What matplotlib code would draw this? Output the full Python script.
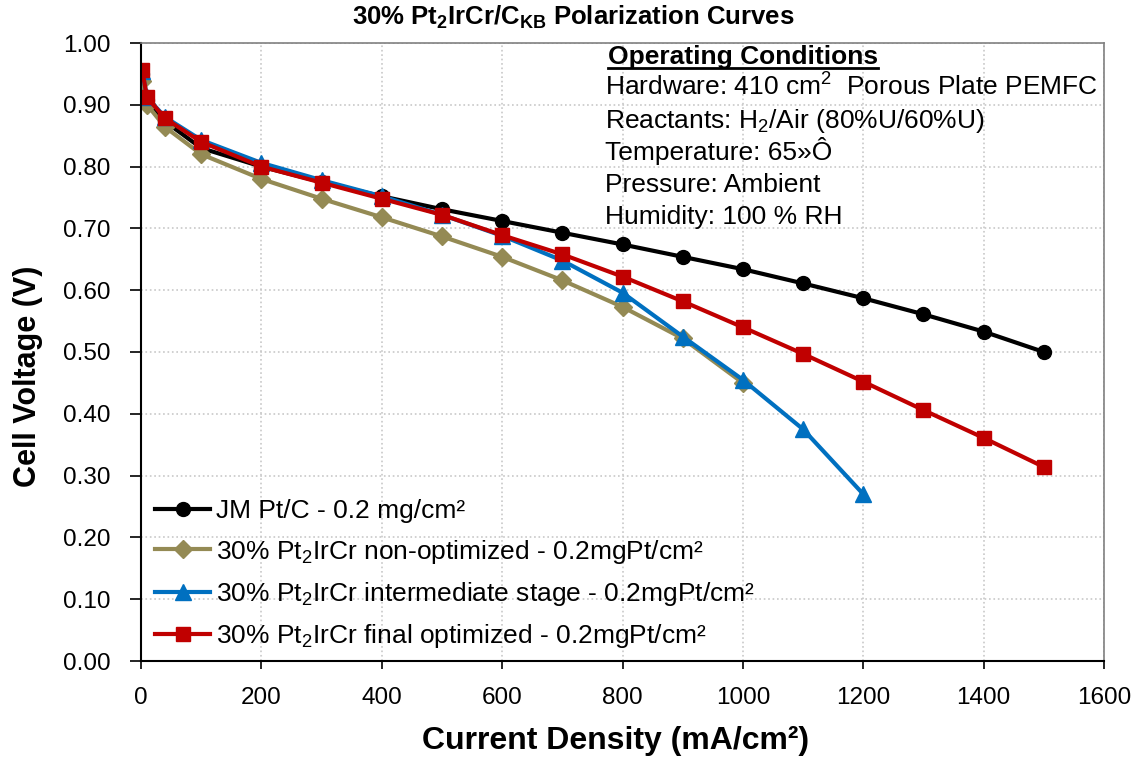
import matplotlib
matplotlib.use('Agg')
import matplotlib.pyplot as plt
from matplotlib.lines import Line2D

plt.rcParams['font.family'] = ['Liberation Sans', 'DejaVu Sans']
plt.rcParams['mathtext.fontset'] = 'custom'
plt.rcParams['mathtext.rm'] = 'Liberation Sans'
plt.rcParams['mathtext.bf'] = 'Liberation Sans:bold'
plt.rcParams['mathtext.default'] = 'regular'

# current density (mA/cm2) and cell voltage (V) per catalyst
jm_x = [2, 10, 40, 100, 200, 300, 400, 500, 600, 700, 800, 900, 1000, 1100, 1200, 1300, 1400, 1500]
jm_v = [0.950, 0.908, 0.873, 0.830, 0.800, 0.775, 0.752, 0.731, 0.712, 0.693, 0.674, 0.654, 0.634, 0.611, 0.587, 0.561, 0.533, 0.500]

nonopt_x = [2, 10, 40, 100, 200, 300, 400, 500, 600, 700, 800, 900, 1000]
nonopt_v = [0.938, 0.900, 0.864, 0.820, 0.780, 0.748, 0.718, 0.687, 0.654, 0.616, 0.573, 0.522, 0.450]

inter_x = [2, 10, 40, 100, 200, 300, 400, 500, 600, 700, 800, 900, 1000, 1100, 1200]
inter_v = [0.955, 0.912, 0.880, 0.843, 0.806, 0.778, 0.752, 0.722, 0.688, 0.648, 0.596, 0.525, 0.455, 0.375, 0.270]

final_x = [2, 10, 40, 100, 200, 300, 400, 500, 600, 700, 800, 900, 1000, 1100, 1200, 1300, 1400, 1500]
final_v = [0.956, 0.912, 0.878, 0.840, 0.800, 0.774, 0.748, 0.722, 0.689, 0.658, 0.622, 0.582, 0.540, 0.497, 0.452, 0.406, 0.361, 0.314]

labels = ['JM Pt/C - 0.2 mg/cm²',
          '30% Pt$_2$IrCr non-optimized - 0.2mgPt/cm²',
          '30% Pt$_2$IrCr intermediate stage - 0.2mgPt/cm²',
          '30% Pt$_2$IrCr final optimized - 0.2mgPt/cm²']

conditions = ['Hardware: 410 cm$^2$  Porous Plate PEMFC',
              'Reactants: H$_2$/Air (80%U/60%U)',
              'Temperature: 65»Ô',
              'Pressure: Ambient',
              'Humidity: 100 % RH']

W, H = 1136, 757
fig = plt.figure(figsize=(W / 100, H / 100), dpi=100)
ax = fig.add_axes([141 / W, 1 - 661 / H, 963 / W, 618 / H])

ax.plot(jm_x, jm_v, color='black', lw=3, marker='o', ms=10, label=labels[0])
ax.plot(nonopt_x, nonopt_v, color='#948A54', lw=3, marker='D', ms=9, label=labels[1])
ax.plot(inter_x, inter_v, color='#0070C0', lw=3, marker='^', ms=11, label=labels[2])
ax.plot(final_x, final_v, color='#C00000', lw=3, marker='s', ms=10, label=labels[3])

ax.set_xlim(0, 1600)
ax.set_ylim(0, 1.0)
ax.set_xticks(range(0, 1601, 200))
ax.set_yticks([i / 10 for i in range(11)])
ax.set_yticklabels([f'{i / 10:.2f}' for i in range(11)])
ax.tick_params(axis='x', labelsize=17.5, direction='out', length=6, width=1.2, pad=13)
ax.tick_params(axis='y', labelsize=17.5, direction='out', length=8, width=1.2, pad=14)
ax.grid(True, color='#c8c8c8', linestyle=':', linewidth=1.2)
ax.set_axisbelow(True)

for s in ['left', 'bottom']:
    ax.spines[s].set_color('black')
    ax.spines[s].set_linewidth(1.5)
for s in ['top', 'right']:
    ax.spines[s].set_color('#808080')
    ax.spines[s].set_linewidth(1.2)

fig.text(616 / W, 1 - 749 / H, 'Current Density (mA/cm²)', fontsize=23,
         fontweight='bold', ha='center', va='baseline')
fig.text(28 / W, 1 - 376 / H, 'Cell Voltage (V)', fontsize=22, fontweight='bold',
         rotation=90, ha='center', va='center')

fig.text(573 / W, 1 - 25 / H, r'30% Pt$\mathbf{_2}$IrCr/C$\mathbf{_{KB}}$ Polarization Curves',
         ha='center', va='baseline', fontsize=18.5, fontweight='bold')

leg = ax.legend(loc='lower left', bbox_to_anchor=(14 / 963, 11 / 618), frameon=False,
                fontsize=19, handlelength=2.1, handletextpad=0.2,
                labelspacing=0.54, borderaxespad=0, borderpad=0)

# operating conditions block
head = fig.text(608 / W, 1 - 64 / H, 'Operating Conditions', fontsize=19, fontweight='bold',
                ha='left', va='baseline')
for i, line in enumerate(conditions):
    fig.text(605 / W, 1 - (96 + 32 * i) / H, line, fontsize=19, ha='left', va='baseline')

fig.canvas.draw()
bb = head.get_window_extent().transformed(fig.transFigure.inverted())
fig.add_artist(Line2D([bb.x0, bb.x1], [bb.y0 + 0.001, bb.y0 + 0.001],
                      transform=fig.transFigure, color='black', lw=2))

fig.savefig('out.png', dpi=100)
